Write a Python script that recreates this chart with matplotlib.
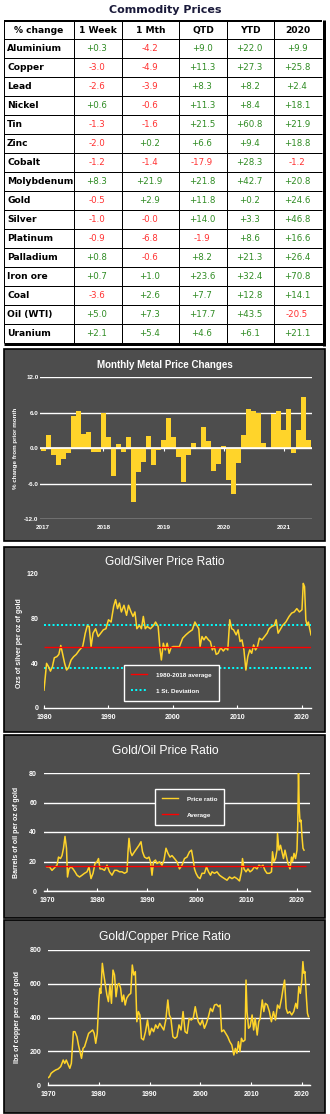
import matplotlib
matplotlib.use("Agg")
import matplotlib.pyplot as plt
from matplotlib.patches import Rectangle
from matplotlib.lines import Line2D

W, H = 330, 1114
PANEL = "#4d4d4d"
YELLOW = "#ffd42a"
GREEN = "#2e8b22"
RED_TXT = "#ff3030"
PX = 0.72  # one pixel in points at 100 dpi

# ---- table data ----
commodities = ["Aluminium", "Copper", "Lead", "Nickel", "Tin", "Zinc", "Cobalt",
               "Molybdenum", "Gold", "Silver", "Platinum", "Palladium", "Iron ore",
               "Coal", "Oil (WTI)", "Uranium"]
columns = ["% change", "1 Week", "1 Mth", "QTD", "YTD", "2020"]
chg_week = [0.3, -3.0, -2.6, 0.6, -1.3, -2.0, -1.2, 8.3, -0.5, -1.0, -0.9, 0.8, 0.7, -3.6, 5.0, 2.1]
chg_month = [-4.2, -4.9, -3.9, -0.6, -1.6, 0.2, -1.4, 21.9, 2.9, -0.0, -6.8, -0.6, 1.0, 2.6, 7.3, 5.4]
chg_qtd = [9.0, 11.3, 8.3, 11.3, 21.5, 6.6, -17.9, 21.8, 11.8, 14.0, -1.9, 8.2, 23.6, 7.7, 17.7, 4.6]
chg_ytd = [22.0, 27.3, 8.2, 8.4, 60.8, 9.4, 28.3, 42.7, 0.2, 3.3, 8.6, 21.3, 32.4, 12.8, 43.5, 6.1]
chg_2020 = [9.9, 25.8, 2.4, 18.1, 21.9, 18.8, -1.2, 20.8, 24.6, 46.8, 16.6, 26.4, 70.8, 14.1, -20.5, 21.1]

# ---- monthly metal price changes, Jan 2017 - Jun 2021 ----
month_years = ["2017", "2018", "2019", "2020", "2021"]
monthly_ticks = [-12.0, -6.0, 0.0, 6.0, 12.0]
monthly_change = [
    -0.55, 2.2, -1.2, -2.9, -1.8, -0.8, 5.4, 6.2, 2.4, 2.7, -0.7, -0.6,
    6.0, 1.9, -4.8, 0.6, -0.7, 1.8, -9.2, -4.1, -2.4, 2.1, -2.9, -0.3,
    1.4, 5.1, 1.9, -1.6, -5.8, -1.2, 0.9, -0.2, 3.6, 1.1, -3.9, -2.7,
    0.4, -5.4, -7.8, -2.5, 2.2, 6.6, 6.2, 5.9, 0.9, 0.0, 5.7, 6.2,
    3.0, 6.6, -0.8, 3.1, 8.6, 1.4,
]

# ---- gold / silver ratio ----
gs_year = [1980.0, 1980.4, 1980.7, 1981.0, 1981.3, 1981.6, 1982.0, 1982.3, 1982.6, 1982.9,
           1983.2, 1983.5, 1983.8, 1984.2, 1984.6, 1985.0, 1985.5, 1986.0, 1986.4, 1986.7,
           1987.0, 1987.3, 1987.6, 1988.0, 1988.4, 1988.8, 1989.2, 1989.6, 1990.0, 1990.4,
           1990.8, 1991.1, 1991.4, 1991.7, 1992.0, 1992.4, 1992.8, 1993.1, 1993.5, 1993.8,
           1994.1, 1994.4, 1994.8, 1995.1, 1995.4, 1995.7, 1996.0, 1996.5, 1997.0, 1997.3,
           1997.7, 1998.0, 1998.2, 1998.5, 1998.8, 1999.1, 1999.4, 1999.7, 2000.0, 2000.5,
           2001.0, 2001.5, 2002.0, 2002.5, 2003.0, 2003.4, 2003.7, 2004.0, 2004.2, 2004.5,
           2004.8, 2005.1, 2005.5, 2005.8, 2006.1, 2006.4, 2006.7, 2007.0, 2007.4, 2007.8,
           2008.2, 2008.5, 2008.8, 2009.1, 2009.4, 2009.8, 2010.1, 2010.4, 2010.7, 2011.0,
           2011.3, 2011.6, 2011.9, 2012.2, 2012.5, 2012.8, 2013.1, 2013.4, 2013.8, 2014.2,
           2014.6, 2014.9, 2015.3, 2015.7, 2016.0, 2016.3, 2016.7, 2017.0, 2017.5, 2018.0,
           2018.4, 2018.8, 2019.2, 2019.6, 2020.0, 2020.2, 2020.4, 2020.6, 2020.8, 2021.0,
           2021.2, 2021.4]
gs_ratio = [16, 40, 37, 33, 37, 45, 46, 48, 56, 48,
            40, 34, 36, 43, 46, 48, 52, 55, 67, 73.5,
            73, 55, 67, 71, 64, 67, 70, 71, 79, 77,
            91, 97, 89, 94, 86, 92, 83, 92, 86, 82,
            86, 71, 74, 71, 82, 71, 73, 71, 74, 77,
            73, 52, 43, 58, 52, 58, 49, 54, 55, 55,
            55, 62.5, 65.5, 68, 70, 77, 74, 71, 55, 64,
            61, 64, 61, 59.5, 52, 55, 48, 49, 54, 51,
            54, 52, 79, 71, 70, 65.5, 70, 59.5, 61, 52,
            34, 46, 52, 49, 56.5, 52, 55, 62.5, 61, 64,
            67, 71, 73, 74, 79, 67, 71, 74, 77, 82,
            85, 86, 89, 86, 88, 111.6, 108.6, 79, 74, 77,
            71, 65.5]
gs_average = 55.0
gs_stdev = 19.0

# ---- gold / oil ratio ----
go_year = [1970.0, 1970.5, 1971.0, 1971.5, 1972.0, 1972.3, 1972.7, 1973.0, 1973.3, 1973.6,
           1973.9, 1974.1, 1974.4, 1974.8, 1975.2, 1975.6, 1976.0, 1976.5, 1977.0, 1977.5,
           1978.0, 1978.4, 1978.8, 1979.2, 1979.6, 1980.0, 1980.3, 1980.6, 1981.0, 1981.5,
           1982.0, 1982.5, 1983.0, 1983.5, 1984.0, 1984.5, 1985.0, 1985.5, 1986.0, 1986.2,
           1986.4, 1986.7, 1987.0, 1987.5, 1988.0, 1988.4, 1988.8, 1989.1, 1989.5, 1990.0,
           1990.4, 1990.7, 1991.0, 1991.3, 1991.7, 1992.0, 1992.5, 1993.0, 1993.4, 1993.8,
           1994.2, 1994.6, 1995.0, 1995.5, 1996.0, 1996.5, 1997.0, 1997.5, 1998.0, 1998.5,
           1998.9, 1999.2, 1999.5, 1999.8, 2000.2, 2000.6, 2001.0, 2001.5, 2001.9, 2002.3,
           2002.7, 2003.0, 2003.5, 2004.0, 2004.5, 2005.0, 2005.5, 2006.0, 2006.5, 2007.0,
           2007.5, 2008.0, 2008.5, 2008.9, 2009.1, 2009.4, 2009.8, 2010.2, 2010.6, 2011.0,
           2011.5, 2012.0, 2012.4, 2012.8, 2013.2, 2013.6, 2014.0, 2014.5, 2014.9, 2015.1,
           2015.4, 2015.7, 2016.0, 2016.1, 2016.4, 2016.7, 2017.0, 2017.3, 2017.6, 2017.9,
           2018.2, 2018.6, 2018.9, 2019.1, 2019.4, 2019.7, 2020.0, 2020.15, 2020.3, 2020.45,
           2020.6, 2020.8, 2021.0, 2021.2, 2021.4]
go_ratio = [16.4, 16.4, 14, 15.7, 17.5, 23, 22, 24, 29, 37,
            29, 9.5, 15, 16.4, 15, 13, 10.7, 9.5, 10.7, 12,
            13, 16.4, 8.4, 12, 18.6, 19.8, 22, 15, 15, 14,
            17.5, 13, 10.7, 14, 14, 13, 13, 12, 13, 26.6,
            35.7, 26.6, 24, 26.6, 29, 31, 33.4, 26.6, 23, 22,
            23, 19.8, 10.7, 19.8, 21, 18.6, 19.8, 17.5, 21, 29,
            25.5, 23, 24, 22, 19.8, 15, 17.5, 22, 23, 26.6,
            27.7, 22, 15, 12, 9.5, 8.4, 12, 12, 16.4, 13,
            10.7, 13, 12, 13, 10.7, 9.5, 8.4, 7.3, 9.5, 8.4,
            9.5, 8.4, 6.8, 13, 22, 15, 13, 15, 13, 14,
            16.4, 15, 17.5, 16.4, 17.5, 14, 12, 12, 13, 26.6,
            19.8, 22, 27.7, 39, 27.7, 31, 26.6, 22, 27.7, 23,
            18.6, 15, 23, 19.8, 25.5, 22, 27.7, 44.8, 80, 56,
            47, 48, 36.8, 29, 27.7]
go_average = 17.0

# ---- gold / copper ratio ----
gc_year = [1970.0, 1970.3, 1970.6, 1971.0, 1971.5, 1972.0, 1972.5, 1973.0, 1973.3, 1973.6,
           1974.0, 1974.3, 1974.6, 1975.0, 1975.3, 1975.7, 1976.0, 1976.3, 1976.6, 1976.9,
           1977.2, 1977.6, 1978.0, 1978.4, 1978.8, 1979.1, 1979.4, 1979.7, 1980.0, 1980.2,
           1980.4, 1980.7, 1981.0, 1981.3, 1981.6, 1981.9, 1982.2, 1982.5, 1982.8, 1983.1,
           1983.4, 1983.7, 1984.0, 1984.3, 1984.6, 1984.9, 1985.2, 1985.5, 1985.9, 1986.3,
           1986.6, 1986.9, 1987.2, 1987.5, 1987.8, 1988.1, 1988.4, 1988.8, 1989.2, 1989.6,
           1990.0, 1990.4, 1990.8, 1991.2, 1991.6, 1992.0, 1992.4, 1992.8, 1993.2, 1993.6,
           1993.9, 1994.2, 1994.6, 1995.0, 1995.4, 1995.8, 1996.2, 1996.6, 1997.0, 1997.4,
           1997.8, 1998.2, 1998.6, 1999.0, 1999.3, 1999.6, 2000.0, 2000.4, 2000.8, 2001.2,
           2001.6, 2002.0, 2002.4, 2002.8, 2003.2, 2003.6, 2003.9, 2004.2, 2004.6, 2005.0,
           2005.4, 2005.8, 2006.2, 2006.6, 2006.9, 2007.2, 2007.5, 2007.8, 2008.1, 2008.4,
           2008.8, 2009.0, 2009.2, 2009.5, 2009.8, 2010.2, 2010.5, 2010.8, 2011.2, 2011.5,
           2011.8, 2012.2, 2012.5, 2012.8, 2013.2, 2013.6, 2014.0, 2014.4, 2014.8, 2015.2,
           2015.6, 2016.0, 2016.3, 2016.6, 2016.9, 2017.2, 2017.6, 2018.0, 2018.4, 2018.8,
           2019.1, 2019.4, 2019.7, 2020.0, 2020.2, 2020.4, 2020.6, 2020.9, 2021.1, 2021.3]
gc_ratio = [43, 49, 69, 79, 89, 95, 109, 148, 128, 148,
            119, 99, 128, 316, 316, 286, 237, 198, 158, 217,
            227, 267, 306, 316, 326, 306, 247, 306, 494, 573,
            543, 721, 652, 593, 533, 494, 593, 484, 681, 652,
            523, 593, 602, 573, 494, 533, 474, 514, 533, 543,
            711, 652, 672, 375, 435, 415, 277, 267, 316, 385,
            296, 336, 316, 356, 336, 365, 346, 326, 385, 504,
            415, 395, 286, 277, 286, 356, 326, 435, 316, 306,
            395, 385, 395, 464, 415, 375, 356, 385, 336, 365,
            405, 454, 435, 474, 478, 464, 474, 316, 326, 306,
            286, 257, 237, 178, 217, 188, 257, 198, 277, 257,
            267, 622, 435, 336, 346, 415, 326, 395, 296, 375,
            395, 504, 435, 484, 474, 435, 375, 435, 385, 474,
            454, 514, 573, 622, 454, 425, 435, 415, 435, 484,
            454, 583, 543, 622, 731, 662, 672, 514, 425, 405]

plt.rcParams["font.family"] = ["Liberation Sans", "DejaVu Sans"]
fig = plt.figure(figsize=(W / 100, H / 100), dpi=100)


def axes_px(x0, y0, x1, y1):
    return fig.add_axes([x0 / W, 1 - y1 / H, (x1 - x0) / W, (y1 - y0) / H])


def panel(x0, y0, x1, y1):
    fig.add_artist(Rectangle((x0 / W, 1 - y1 / H), (x1 - x0) / W, (y1 - y0) / H,
                             transform=fig.transFigure, facecolor=PANEL,
                             edgecolor="black", lw=1.2, zorder=-5))


def label_px(x, y, s, **kw):
    fig.text(x / W, 1 - y / H, s, color="white", ha="center", va="center", **kw)


def chart_style(ax, xticks, xlabels, yticks, ylabels, ypad, size=5):
    ax.set_facecolor("none")
    for s in ax.spines.values():
        s.set_visible(False)
    ax.set_xticks(xticks)
    ax.set_xticklabels(xlabels, fontsize=size, fontweight="bold", color="white")
    ax.set_yticks(yticks)
    ax.set_yticklabels(ylabels, fontsize=size, fontweight="bold", color="white")
    ax.tick_params(axis="y", length=0, pad=ypad)
    ax.tick_params(axis="x", direction="in", length=2.5, width=0.8, color="white", pad=4)


def white_baseline(ax):
    ax.spines["bottom"].set_visible(True)
    ax.spines["bottom"].set_color("white")
    ax.spines["bottom"].set_linewidth(1)


# ================= table =================
tab = axes_px(0, 0, W, 348)
tab.set_xlim(0, W)
tab.set_ylim(348, 0)
tab.axis("off")

col_edges = [4, 74, 122, 179, 227, 274, 322]
top, head_bot, row_h = 21, 39, 19
bottom = head_bot + row_h * len(commodities)

tab.text(165, 10, "Commodity Prices", ha="center", va="center", fontsize=8,
         fontweight="bold", color="#1a1a3a", family="DejaVu Sans")
tab.hlines(top, col_edges[0], col_edges[-1], color="black", lw=2 * PX)
for i in range(len(commodities)):
    tab.hlines(head_bot + row_h * i, col_edges[0], col_edges[-1], color="black", lw=PX)
tab.hlines(bottom + 1, col_edges[0], col_edges[-1] + 3, color="black", lw=3 * PX)
for x in col_edges[:-1]:
    tab.vlines(x, top, bottom, color="black", lw=PX)
tab.vlines(col_edges[-1] + 1.5, top - 1, bottom + 2.5, color="black", lw=3 * PX)

centers = [(a + b) / 2 for a, b in zip(col_edges[:-1], col_edges[1:])]
for c, name in zip(centers, columns):
    tab.text(c, (top + head_bot) / 2 + 0.5, name, ha="center", va="center", fontsize=6.6,
             fontweight="bold", color="black", family="DejaVu Sans")

series = [chg_week, chg_month, chg_qtd, chg_ytd, chg_2020]
for r, name in enumerate(commodities):
    yc = head_bot + row_h * r + row_h / 2
    tab.text(7, yc, name, ha="left", va="center", fontsize=6.6, fontweight="bold",
             color="black", family="DejaVu Sans")
    for c, vals in zip(centers[1:], series):
        txt = f"{vals[r]:+.1f}"
        tab.text(c - 1, yc, txt, ha="center", va="center", fontsize=6.2,
                 color=RED_TXT if txt.startswith("-") else GREEN, family="DejaVu Sans")

# ================= monthly metal price changes =================
panel(4, 349, 325, 541)
label_px(165, 365, "Monthly Metal Price Changes", fontsize=7, fontweight="bold")
label_px(16, 448, "% change from prior month", fontsize=4.5, fontweight="bold", rotation=90)
ax1 = axes_px(40, 377, 312, 519)
idx = list(range(len(monthly_change)))
ax1.bar(idx, monthly_change, width=1.0, color=YELLOW, zorder=2)
ax1.set_xlim(-0.65, len(monthly_change) - 0.4)
ax1.set_ylim(monthly_ticks[0], monthly_ticks[-1])
year_idx = [12 * i for i in range(len(month_years))]
chart_style(ax1, year_idx, month_years, monthly_ticks,
            [f"{v:.1f}" for v in monthly_ticks], 1, size=4.5)
ax1.tick_params(axis="x", length=0, pad=4)
ax1.yaxis.grid(True, color="white", lw=1)
ax1.set_axisbelow(True)
ax1.axhline(0, color="white", lw=1.2, zorder=3)
ax1.vlines(year_idx[1:], -0.5, 0, color="white", lw=0.8, zorder=3)

# ================= gold / silver =================
panel(4, 547, 325, 732)
label_px(165, 562, "Gold/Silver Price Ratio", fontsize=8.6)
label_px(20, 643, "Ozs of silver per oz of gold", fontsize=5, fontweight="bold", rotation=90)
ax2 = axes_px(44, 574, 311, 708)
ax2.plot(gs_year, gs_ratio, color=YELLOW, lw=1.1, zorder=3)
ax2.hlines(gs_average, gs_year[0], gs_year[-1], color="red", lw=1, zorder=4)
for lvl in (gs_average + gs_stdev, gs_average - gs_stdev):
    ax2.hlines(lvl, gs_year[0], gs_year[-1], color="#00ffff", lw=1.4,
               linestyles=(0, (1, 1.2)), zorder=2)
ax2.set_xlim(1980, 2021.4)
ax2.set_ylim(0, 120)
chart_style(ax2, [1980, 1990, 2000, 2010, 2020], ["1980", "1990", "2000", "2010", "2020"],
            [0, 40, 80, 120], ["0", "40", "80", "120"], 4)
white_baseline(ax2)
leg = ax2.legend([Line2D([], [], color="red", lw=1),
                  Line2D([], [], color="#00ffff", lw=1.4, ls=(0, (1, 1.2)))],
                 ["1980-2018 average", "1 St. Deviation"],
                 loc="center", bbox_to_anchor=(0.4775, 0.187), frameon=True,
                 fancybox=False, facecolor=PANEL, edgecolor="white", framealpha=1,
                 prop={"size": 4.5, "weight": "bold"}, labelcolor="white",
                 handlelength=2.6, handletextpad=1.4, labelspacing=1.7, borderpad=1.1)
leg.get_frame().set_linewidth(1)

# ================= gold / oil =================
panel(4, 735, 325, 918)
label_px(165, 751, "Gold/Oil Price Ratio", fontsize=8.7)
label_px(17, 832, "Barrels of oil per oz of gold", fontsize=5, fontweight="bold", rotation=90)
ax3 = axes_px(44, 773, 310, 891)
ax3.plot(go_year, go_ratio, color=YELLOW, lw=1.1, zorder=3)
ax3.hlines(go_average, 1969.6, go_year[-1] + 0.3, color="red", lw=1, zorder=4)
ax3.set_xlim(1969.4, 2022.6)
ax3.set_ylim(0, 80)
chart_style(ax3, [1970, 1980, 1990, 2000, 2010, 2020],
            ["1970", "1980", "1990", "2000", "2010", "2020"],
            [0, 20, 40, 60, 80], ["0", "20", "40", "60", "80"], 5)
ax3.yaxis.grid(True, color="white", lw=1)
ax3.set_axisbelow(True)
white_baseline(ax3)
leg = ax3.legend([Line2D([], [], color=YELLOW, lw=1), Line2D([], [], color="red", lw=1)],
                 ["Price ratio", "Average"], loc="center", bbox_to_anchor=(0.547, 0.712),
                 frameon=True, fancybox=False, facecolor=PANEL, edgecolor="white",
                 framealpha=1, prop={"size": 4.5, "weight": "bold"}, labelcolor="white",
                 handlelength=2.6, handletextpad=1.4, labelspacing=1.7, borderpad=1.1)
leg.get_frame().set_linewidth(1)

# ================= gold / copper =================
panel(4, 920, 325, 1113)
label_px(165, 937, "Gold/Copper Price Ratio", fontsize=8.7)
label_px(18, 1017, "lbs of copper per oz of gold", fontsize=5, fontweight="bold", rotation=90)
ax4 = axes_px(48, 950, 310, 1085)
ax4.plot(gc_year, gc_ratio, color=YELLOW, lw=1.1, zorder=3)
ax4.set_xlim(1970, 2021.6)
ax4.set_ylim(0, 800)
chart_style(ax4, [1970, 1980, 1990, 2000, 2010, 2020],
            ["1970", "1980", "1990", "2000", "2010", "2020"],
            [0, 200, 400, 600, 800], ["0", "200", "400", "600", "800"], 5)
ax4.yaxis.grid(True, color="white", lw=1)
ax4.set_axisbelow(True)
white_baseline(ax4)

fig.savefig("out.png", dpi=100)
